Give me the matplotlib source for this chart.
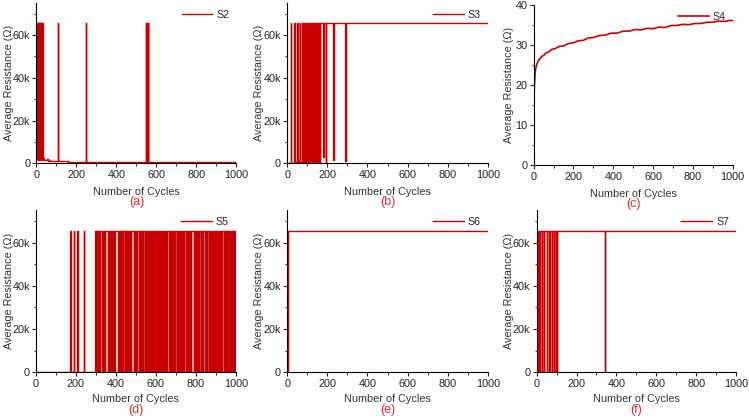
"""
Average resistance vs. number of cycles for samples S2-S7 (six panels).
"""

import matplotlib

matplotlib.use("Agg")
import matplotlib.pyplot as plt  # noqa: E402
from matplotlib.ticker import FuncFormatter, MultipleLocator  # noqa: E402

plt.rcParams["font.family"] = ["Liberation Sans", "DejaVu Sans"]

HIGH = 65535  # saturated reading

# ---- S2: base levels (start cycle, value) and one-cycle excursions ----
s2_base_start = [0, 32, 40, 48, 55, 60, 66, 70, 80, 95, 120, 160, 200, 300, 400, 500, 600, 800]
s2_base_value = [HIGH, 2300, 1600, 1400, 2200, 1300, 1700, 1200, 1100, 1000, 900, 800, 750, 680, 650, 620, 600, 580]
s2_event_cycle = [1, 3, 6, 8, 10, 13, 15, 17, 20, 22, 24, 26, 29, 109, 246, 549, 552, 555, 557]
s2_event_value = [2100, 1900, 2300, 1800, 2000, 1700, 2200, 1900, 2000, 1600, 2100, 1800, 1500,
                  HIGH, HIGH, HIGH, HIGH, HIGH, HIGH]

# ---- S3 ----
s3_base_start = [0, 20, 40, 60, 75]
s3_base_value = [200, 350, 450, 600, HIGH]
s3_event_cycle = [18, 35, 50, 63,
                  76, 78, 81, 85, 87, 90, 94, 96, 99, 103, 105, 108, 112, 114, 117, 121, 123,
                  126, 129, 132, 136, 138, 141, 145, 147, 150, 153, 156, 159, 162,
                  180, 193, 230, 290]
s3_event_value = [HIGH, HIGH, HIGH, HIGH,
                  700, 650, 800, 700, 750, 600, 800, 700, 650, 900, 700, 750, 800, 600, 900,
                  700, 800, 750, 650, 900, 700, 800, 600, 900, 750, 700, 800, 650, 900, 800,
                  3000, 200, 1500, 1200]

# ---- S4: read-off points of the rising curve ----
s4_cycle = [0, 2, 4, 6, 8, 10, 14, 18, 24, 30, 40, 50, 60, 75, 90, 110, 130, 150, 175, 200,
            225, 250, 275, 300, 330, 360, 390, 420, 450, 480, 510, 540, 570, 600, 630, 660,
            690, 720, 750, 780, 810, 840, 870, 900, 930, 960, 990, 1000]
s4_value = [14.0, 17.2, 20.1, 22.0, 23.4, 24.1, 25.0, 25.5, 26.2, 26.5, 27.2, 27.4, 28.0, 28.3,
            28.9, 29.2, 29.7, 29.8, 30.4, 30.6, 31.1, 31.2, 31.8, 31.9, 32.4, 32.5, 33.0, 33.0,
            33.5, 33.5, 33.9, 33.8, 34.2, 34.1, 34.5, 34.4, 34.9, 34.9, 35.2, 35.1, 35.4, 35.4,
            35.7, 35.7, 36.0, 35.9, 36.2, 36.1]

# ---- S5 ----
s5_base_start = [0, 293]
s5_base_value = [0, HIGH]
s5_event_cycle = [170, 172, 190, 207, 209, 240,
                  294, 299, 305, 311, 317, 328, 332, 337, 341, 346,
                  358, 362, 366, 371, 375, 379, 383, 388, 392, 396,
                  408, 412, 416, 421, 425, 429, 434, 446, 450, 454, 459, 463, 467, 471, 476,
                  490, 494, 498, 502, 516, 520, 524, 529, 534,
                  547, 550, 553, 556, 559, 563, 566, 569, 572, 575, 579, 582, 585, 588, 591,
                  595, 598, 601, 604, 607, 611, 614, 617, 620, 623, 627, 630, 633, 636, 639,
                  643, 646, 649, 652, 655,
                  665, 668, 671, 674, 682, 685, 688, 691, 694,
                  706, 709, 712, 715, 718, 722, 725, 728, 731, 734, 738,
                  749, 752, 755, 758, 761, 765, 768, 771, 774, 777,
                  792, 795, 798, 801, 804, 808, 811, 814, 827, 830, 833, 846, 849, 852, 855,
                  867, 870, 873, 876, 879, 883, 886, 889, 892, 895, 899, 902, 905, 908,
                  918, 921, 924, 927, 931,
                  943, 946, 949, 952, 955, 959, 962, 965, 968, 971, 975, 978, 981, 984, 987,
                  991, 994, 997]
s5_event_value = [HIGH] * 6 + [0] * (len(s5_event_cycle) - 6)

# ---- S6 ----
s6_base_start = [0, 1]
s6_base_value = [0, HIGH]

# ---- S7 ----
s7_base_start = [0]
s7_base_value = [HIGH]
s7_event_cycle = [4, 14, 26, 38, 51, 64, 77, 87, 97, 103, 344]
s7_event_value = [0] * len(s7_event_cycle)

LINE_COLOR = "#C80000"
LETTER_COLOR = "#E8282B"


def step_trace(base_start, base_value, ev_cycle=(), ev_value=(), end=1000):
    """Merge held base levels with one-cycle excursions into step vertices."""
    def base_at(c):
        v = base_value[0]
        for s, val in zip(base_start, base_value):
            if s <= c:
                v = val
        return v

    pts = {s: v for s, v in zip(base_start, base_value)}
    for c, v in zip(ev_cycle, ev_value):
        nxt = c + 1
        if nxt not in pts:
            pts[nxt] = base_at(nxt)
        pts[c] = v
    xs = sorted(k for k in pts if k <= end)
    ys = [pts[k] for k in xs]
    xs.append(end)
    ys.append(ys[-1])
    return xs, ys


def k_fmt(v, _pos):
    return "0" if v == 0 else f"{int(round(v / 1000))}k"


def style_axes(ax, ylim, ymajor, yminor, kfmt, ylab_x, xlab_y, letter_y, letter):
    for side in ("top", "right"):
        ax.spines[side].set_visible(False)
    for side in ("left", "bottom"):
        ax.spines[side].set_linewidth(0.8)
    ax.set_xlim(0, 1000)
    ax.set_ylim(*ylim)
    ax.xaxis.set_major_locator(MultipleLocator(200))
    ax.xaxis.set_minor_locator(MultipleLocator(100))
    ax.yaxis.set_major_locator(MultipleLocator(ymajor))
    ax.yaxis.set_minor_locator(MultipleLocator(yminor))
    if kfmt:
        ax.yaxis.set_major_formatter(FuncFormatter(k_fmt))
    ax.tick_params(which="major", direction="out", length=3, width=0.8, pad=1.5,
                   labelsize=7.8, colors="#222222")
    ax.tick_params(which="minor", direction="out", length=1.8, width=0.6)
    ax.set_xlabel("Number of Cycles", fontsize=7.8, color="#333333")
    ax.set_ylabel("Average Resistance (Ω)", fontsize=7.8, color="#333333")
    ax.xaxis.set_label_coords(0.5, xlab_y)
    ax.xaxis.label.set_va("center")
    ax.yaxis.set_label_coords(ylab_x, 0.5)
    ax.yaxis.label.set_va("center")
    ax.text(0.5, letter_y, letter, transform=ax.transAxes, ha="center", va="center",
            fontsize=9, color=LETTER_COLOR)
    leg = ax.legend(loc="upper right", bbox_to_anchor=(1.0, 1.0), frameon=False,
                    fontsize=7.6, handlelength=2.9, handletextpad=0.4, borderaxespad=0.25)
    for t in leg.get_texts():
        t.set_color("#222222")


def main() -> None:
    fig = plt.figure(figsize=(7.49, 4.2), dpi=100)

    rects = {
        "a": [0.0487, 0.611, 0.267, 0.382],
        "b": [0.3836, 0.611, 0.2676, 0.382],
        "c": [0.7125, 0.606, 0.2657, 0.382],
        "d": [0.0481, 0.1136, 0.2667, 0.386],
        "e": [0.3836, 0.1136, 0.2676, 0.386],
        "f": [0.7165, 0.1136, 0.2663, 0.386],
    }

    traces = {
        "a": ("S2", step_trace(s2_base_start, s2_base_value, s2_event_cycle, s2_event_value)),
        "b": ("S3", step_trace(s3_base_start, s3_base_value, s3_event_cycle, s3_event_value)),
        "d": ("S5", step_trace(s5_base_start, s5_base_value, s5_event_cycle, s5_event_value)),
        "e": ("S6", step_trace(s6_base_start, s6_base_value)),
        "f": ("S7", step_trace(s7_base_start, s7_base_value, s7_event_cycle, s7_event_value)),
    }

    for key in "abcdef":
        ax = fig.add_axes(rects[key])
        top_row = key in "abc"
        xlab_y = -0.177 if top_row else -0.166
        letter_y = -0.24 if top_row else -0.232
        if key == "c":
            ax.plot(s4_cycle, s4_value, color=LINE_COLOR, lw=1.2, label="S4")
            style_axes(ax, (0, 40), 10, 5, False, -0.124, xlab_y, letter_y, "(c)")
            continue
        label, (xs, ys) = traces[key]
        ax.plot(xs, ys, color=LINE_COLOR, lw=1.0, drawstyle="steps-post", label=label)
        ylab_x = -0.1375 if key in "ad" else -0.141
        style_axes(ax, (0, 75000), 20000, 10000, True, ylab_x, xlab_y, letter_y, f"({key})")

    fig.savefig("out.png", dpi=100)
    plt.close(fig)


if __name__ == "__main__":
    main()
